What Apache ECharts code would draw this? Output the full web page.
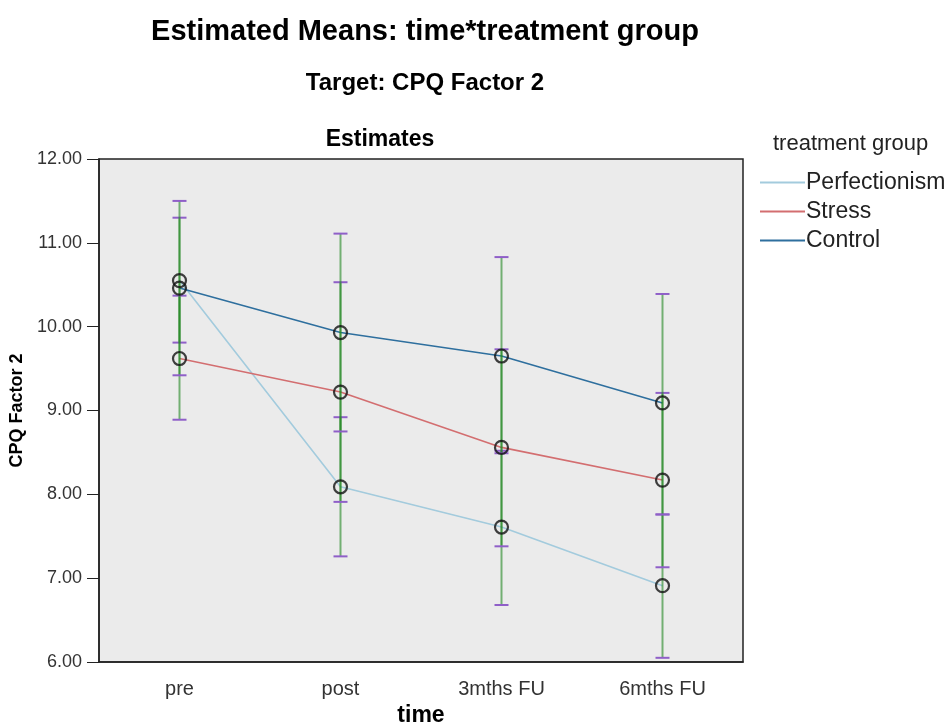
<!DOCTYPE html>
<html><head><meta charset="utf-8">
<script src="https://cdn.jsdelivr.net/npm/echarts@6/dist/echarts.min.js"></script>
<style>html,body{margin:0;padding:0;background:#fff}#c{width:951px;height:725px}</style>
</head><body><div id="c"></div>
<script>
const categories = ['pre', 'post', '3mths FU', '6mths FU'];
const groups = ['Perfectionism', 'Stress', 'Control'];
const perfMean = [10.55, 8.09, 7.61, 6.91];
const perfLow  = [9.81, 7.26, 6.68, 6.05];
const perfHigh = [11.30, 8.92, 8.52, 7.76];
const stressMean = [9.62, 9.22, 8.56, 8.17];
const stressLow  = [8.89, 7.91, 7.38, 7.13];
const stressHigh = [10.37, 10.53, 9.73, 9.21];
const controlMean = [10.46, 9.93, 9.65, 9.09];
const controlLow  = [9.42, 8.75, 8.49, 7.76];
const controlHigh = [11.50, 11.11, 10.83, 10.39];
const yTicks = [6, 7, 8, 9, 10, 11, 12];

const colors = ['#a3cbdd', '#d36e70', '#2e6f9e'];
const means = [perfMean, stressMean, controlMean];
const lows = [perfLow, stressLow, controlLow];
const highs = [perfHigh, stressHigh, controlHigh];

const chart = echarts.init(document.getElementById('c'));
const font = 'Liberation Sans, Arial, sans-serif';

const series = [];
groups.forEach((g, i) => {
  series.push({
    name: g, type: 'line', data: means[i], showSymbol: false, z: 2,
    lineStyle: { color: colors[i], width: 1.6 }, itemStyle: { color: colors[i] },
    emphasis: { disabled: true }, animation: false
  });
});
groups.forEach((g, i) => {
  series.push({
    name: g + ' CI', type: 'custom', z: 3, animation: false,
    data: categories.map((c, k) => [k, lows[i][k], highs[i][k]]),
    renderItem: (params, api) => {
      const x = api.value(0);
      const pHi = api.coord([x, api.value(2)]);
      const pLo = api.coord([x, api.value(1)]);
      return { type: 'group', children: [
        { type: 'line', shape: { x1: pHi[0], y1: pHi[1], x2: pLo[0], y2: pLo[1] }, style: { stroke: 'rgba(34,135,34,0.6)', lineWidth: 2 } },
        { type: 'line', shape: { x1: pHi[0] - 7, y1: pHi[1], x2: pHi[0] + 7, y2: pHi[1] }, style: { stroke: '#8f5fc8', lineWidth: 2 } },
        { type: 'line', shape: { x1: pLo[0] - 7, y1: pLo[1], x2: pLo[0] + 7, y2: pLo[1] }, style: { stroke: '#8f5fc8', lineWidth: 2 } }
      ]};
    }
  });
});
groups.forEach((g, i) => {
  series.push({
    name: g + ' mean', type: 'scatter', z: 4, data: means[i], symbol: 'circle', symbolSize: 13,
    itemStyle: { color: 'transparent', borderColor: '#111', borderWidth: 2.2 }, animation: false
  });
});

chart.setOption({
  animation: false,
  backgroundColor: '#fff',
  title: [
    { text: 'Estimated Means: time*treatment group', left: 420, top: 12, textAlign: 'center',
      textStyle: { fontFamily: font, fontSize: 29, fontWeight: 'bold', color: '#000' } },
    { text: 'Target: CPQ Factor 2', left: 420, top: 66, textAlign: 'center',
      textStyle: { fontFamily: font, fontSize: 24, fontWeight: 'bold', color: '#000' } },
    { text: 'Estimates', left: 375, top: 123, textAlign: 'center',
      textStyle: { fontFamily: font, fontSize: 23, fontWeight: 'bold', color: '#000' } },
    { text: 'treatment group', left: 773, top: 133, padding: 0,
      textStyle: { fontFamily: font, fontSize: 22, fontWeight: 'normal', color: '#222' } }
  ],
  legend: {
    left: 755, top: 166, orient: 'vertical', itemWidth: 45, itemHeight: 2, itemGap: 6, icon: 'rect',
    data: groups.map((g, i) => ({ name: g, itemStyle: { color: colors[i] } })),
    textStyle: { fontFamily: font, fontSize: 23, color: '#222', padding: [0, 0, 0, -4] },
    selectedMode: false
  },
  grid: { left: 99, top: 159, width: 644, height: 503, show: true, backgroundColor: '#ebebeb',
          borderColor: '#222', borderWidth: 1.5, outerBoundsMode: 'none', containLabel: false },
  xAxis: {
    type: 'category', data: categories, name: 'time', nameLocation: 'middle', nameGap: 40,
    nameTextStyle: { fontFamily: font, fontSize: 23, fontWeight: 'bold', color: '#000' },
    axisLine: { lineStyle: { color: '#222', width: 1.5 } },
    axisTick: { alignWithLabel: true, length: 12, lineStyle: { color: '#222' } },
    axisLabel: { fontFamily: font, fontSize: 20, color: '#333', margin: 17 },
    splitLine: { show: false }
  },
  yAxis: {
    type: 'value', min: yTicks[0], max: yTicks[yTicks.length - 1], interval: 1,
    name: 'CPQ Factor 2', nameLocation: 'middle', nameGap: 72, nameRotate: 90,
    nameTextStyle: { fontFamily: font, fontSize: 18, fontWeight: 'bold', color: '#000' },
    axisLine: { show: true, lineStyle: { color: '#222', width: 1.5 } },
    axisTick: { show: true, length: 12, lineStyle: { color: '#222' } },
    axisLabel: { fontFamily: font, fontSize: 18, color: '#333', margin: 17, formatter: v => v.toFixed(2) },
    splitLine: { show: false }
  },
  series: series
});
</script></body></html>
